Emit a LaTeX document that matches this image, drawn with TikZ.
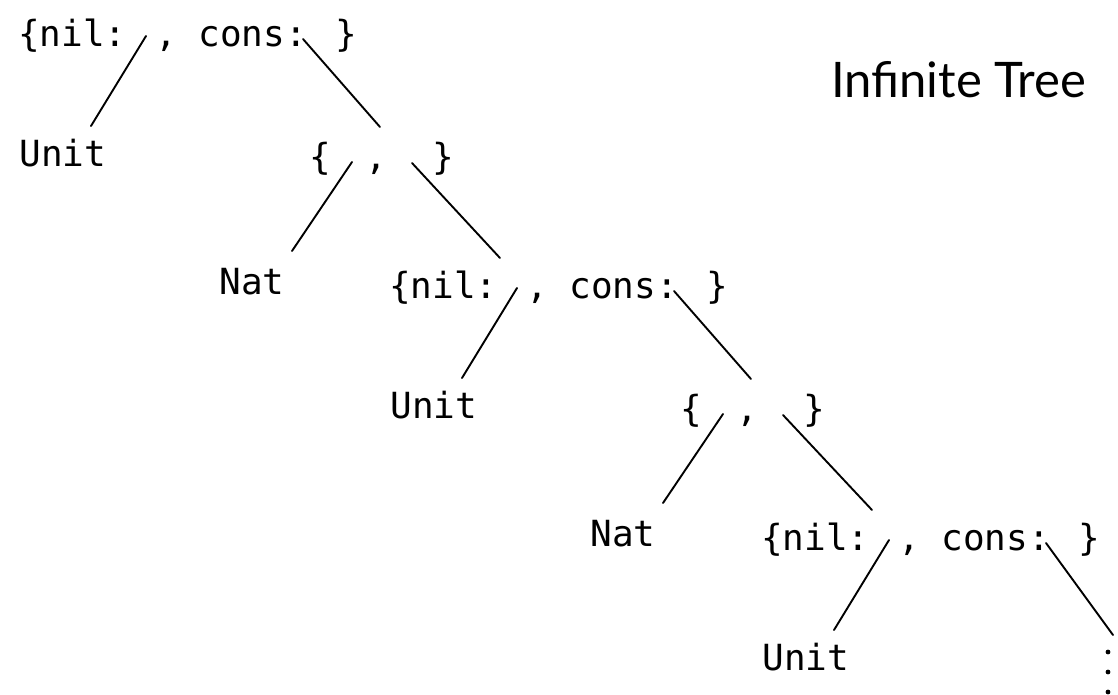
\documentclass[tikz,border=0pt]{standalone}
\usepackage{fontspec}
\newfontfamily\treemono{DejaVu Sans Mono}
\newfontfamily\titlefont{Lato}
\usetikzlibrary{calc}
\begin{document}
\begin{tikzpicture}[x=1pt,y=-1pt,
  lbl/.style={anchor=base west, inner sep=0pt, outer sep=0pt, font=\treemono\fontsize{36}{40}\selectfont},
  edge/.style={line width=1.9pt, line cap=round},
  title/.style={anchor=base west, inner sep=0pt, outer sep=0pt, font=\titlefont\fontsize{49}{52}\selectfont}]
\useasboundingbox[fill=white] (0,0) rectangle (1118,694);
\newcommand{\recnode}{\{nil: , cons: \}}
\newcommand{\pairnode}{\{\hspace*{34.5pt},\hspace*{45.4pt}\}}
% nodes
\node[lbl] (R0) at (18,46) {\recnode};
\node[lbl] (U0) at (19.5,166) {Unit};
\node[lbl] (P1) at (309,169) {\pairnode};
\node[lbl] (N2) at (219.5,294) {Nat};
\node[lbl] (R2) at (389,298) {\recnode};
\node[lbl] (U3) at (390.5,418) {Unit};
\node[lbl] (P3) at (680,421) {\pairnode};
\node[lbl] (N4) at (590.5,546) {Nat};
\node[lbl] (R4) at (761,550) {\recnode};
\node[lbl] (U5) at (762.5,670) {Unit};
\node[title] (title) at (831,97) {Infinite Tree};
\coordinate (more) at (1113,635);
\foreach \yy in {652,672,692} \fill (1108,\yy) circle (2.4pt);
% edges
\draw[edge] ($(R0.base west)+(128,-10)$) -- ($(U0.base west)+(71.5,-40)$);
\draw[edge] ($(R0.base west)+(285,-7)$) -- ($(P1.base west)+(71,-42)$);
\draw[edge] ($(P1.base west)+(43,-7)$) -- ($(N2.base west)+(72.5,-43)$);
\draw[edge] ($(P1.base west)+(103,-6)$) -- ($(R2.base west)+(111,-40)$);
\draw[edge] ($(R2.base west)+(128,-10)$) -- ($(U3.base west)+(71.5,-40)$);
\draw[edge] ($(R2.base west)+(285,-7)$) -- ($(P3.base west)+(71,-42)$);
\draw[edge] ($(P3.base west)+(43,-7)$) -- ($(N4.base west)+(72.5,-43)$);
\draw[edge] ($(P3.base west)+(103,-6)$) -- ($(R4.base west)+(111,-40)$);
\draw[edge] ($(R4.base west)+(128,-10)$) -- ($(U5.base west)+(71.5,-40)$);
\draw[edge] ($(R4.base west)+(285,-7)$) -- (more);
\end{tikzpicture}
\end{document}
